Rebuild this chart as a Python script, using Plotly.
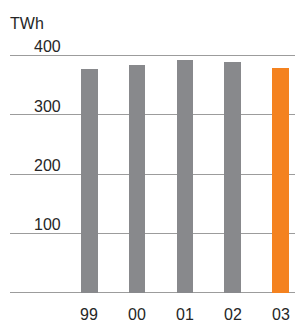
import plotly.graph_objects as go

years = ["99", "00", "01", "02", "03"]
values = [377, 384, 392, 389, 379]
bar_colors = ["#88898c", "#88898c", "#88898c", "#88898c", "#f4821f"]
y_ticks = [0, 100, 200, 300, 400]
unit = "TWh"

font_family = "Liberation Sans, Arial, sans-serif"
text_color = "#262626"

fig = go.Figure(
    go.Bar(
        x=years,
        y=values,
        marker=dict(color=bar_colors, line=dict(width=0)),
        width=0.354,
        hoverinfo="skip",
    )
)

annotations = [
    dict(
        text=unit, xref="paper", yref="paper", x=0, y=1, xanchor="left", yanchor="bottom",
        xshift=-2, yshift=20, showarrow=False,
        font=dict(family=font_family, size=16, color=text_color),
    )
]
for v in y_ticks[1:]:
    annotations.append(
        dict(
            text=str(v), xref="paper", yref="y", x=0, y=v, xanchor="right", yanchor="bottom",
            xshift=53, yshift=-2, showarrow=False,
            font=dict(family=font_family, size=16, color=text_color),
        )
    )

fig.update_layout(
    width=295,
    height=322,
    margin=dict(l=10, r=0, t=54, b=27.5),
    paper_bgcolor="white",
    plot_bgcolor="white",
    showlegend=False,
    bargap=0,
    annotations=annotations,
    xaxis=dict(
        type="category",
        range=[-1.646, 4.292],
        showgrid=False,
        zeroline=False,
        showline=False,
        ticks="",
        ticklabelstandoff=9,
        tickfont=dict(family=font_family, size=16, color=text_color),
        fixedrange=True,
    ),
    yaxis=dict(
        range=[-2, 402],
        tickvals=y_ticks,
        showticklabels=False,
        showgrid=True,
        gridcolor="#9c9c9c",
        gridwidth=1,
        zeroline=False,
        showline=False,
        ticks="",
        fixedrange=True,
    ),
)

fig.write_html(
    "out.html",
    config={"displayModeBar": False},
    post_script="document.body.style.margin='0';document.body.style.overflow='hidden';",
)
